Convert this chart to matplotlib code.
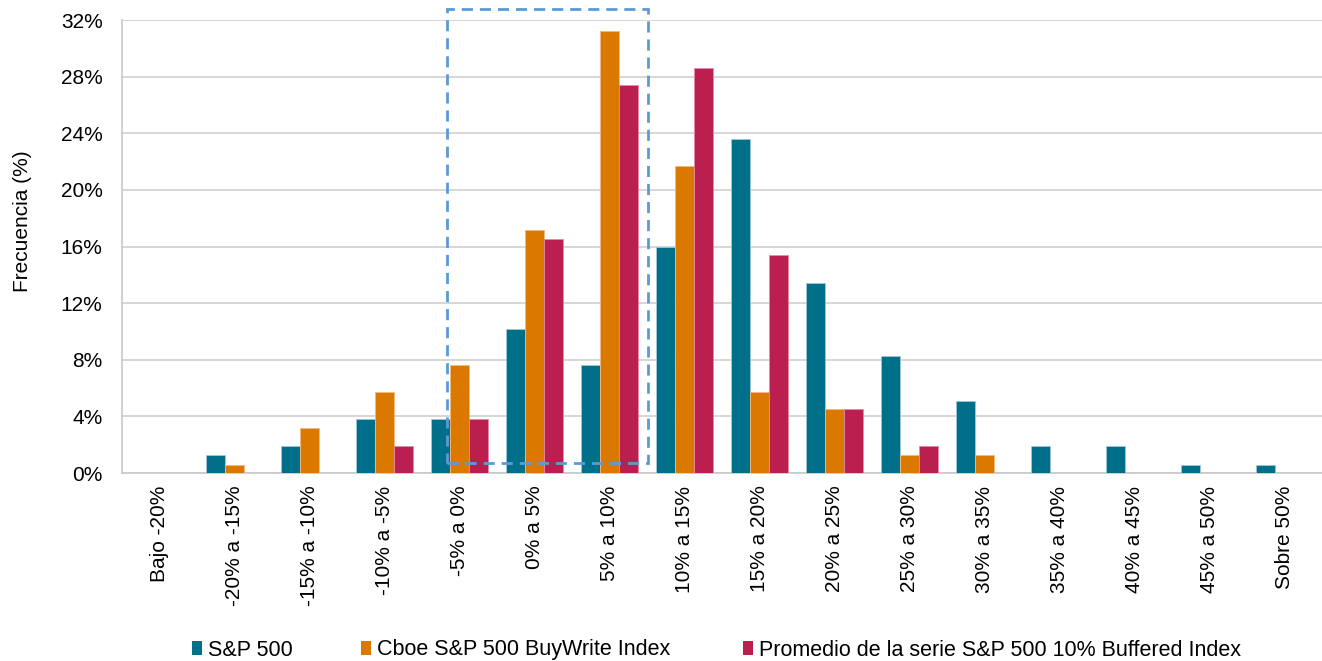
import numpy as np
import matplotlib.pyplot as plt
from matplotlib.patches import Rectangle, Patch

plt.rcParams['font.family'] = ['Liberation Sans', 'DejaVu Sans']

categorias = ["Bajo -20%", "-20% a -15%", "-15% a -10%", "-10% a -5%", "-5% a 0%",
              "0% a 5%", "5% a 10%", "10% a 15%", "15% a 20%", "20% a 25%",
              "25% a 30%", "30% a 35%", "35% a 40%", "40% a 45%", "45% a 50%",
              "Sobre 50%"]
sp500 = [0, 1.3, 1.9, 3.8, 3.8, 10.2, 7.6, 16.0, 23.6, 13.4, 8.3, 5.1, 1.9, 1.9, 0.6, 0.6]
buywrite = [0, 0.6, 3.2, 5.7, 7.6, 17.2, 31.2, 21.7, 5.7, 4.5, 1.3, 1.3, 0, 0, 0, 0]
buffered = [0, 0, 0, 1.9, 3.8, 16.5, 27.4, 28.6, 15.4, 4.5, 1.9, 0, 0, 0, 0, 0]
series = ["S&P 500", "Cboe S&P 500 BuyWrite Index",
          "Promedio de la serie S&P 500 10% Buffered Index"]
colores = ["#006F8A", "#DB7800", "#BA1F50"]
bordes = ["#9CC9D6", "#F2B97A", "#E48AA6"]

fig = plt.figure(figsize=(13.22, 6.61), dpi=100)
ax = fig.add_axes([0.0923, 0.2844, 0.9077, 0.6853])

x = np.arange(len(categorias))
w = 0.253
for i, vals in enumerate([sp500, buywrite, buffered]):
    ax.bar(x + (i - 1) * w, vals, w, color=colores[i], edgecolor=bordes[i],
           linewidth=0.6, zorder=3)

ax.set_xlim(-0.5, len(categorias) - 0.5)
ax.set_ylim(0, 32)
ax.set_yticks(np.arange(0, 33, 4))
ax.set_yticklabels([f"{v}%" for v in range(0, 33, 4)], fontsize=15)
ax.set_xticks(x)
ax.set_xticklabels(categorias, rotation=90, fontsize=15, va='top')
ax.tick_params(axis='both', length=0)
ax.tick_params(axis='y', pad=14)
ax.tick_params(axis='x', pad=9)
ax.grid(axis='y', color='#D0D0D0', linewidth=1.2, zorder=0)
for s in ['top', 'right']:
    ax.spines[s].set_visible(False)
for s in ['left', 'bottom']:
    ax.spines[s].set_color('#C8C8C8')
    ax.spines[s].set_linewidth(1.2)
ax.set_ylabel("Frecuencia (%)", fontsize=15)
ax.yaxis.set_label_coords(-0.075, 0.556)

# recuadro discontinuo
ax.add_patch(Rectangle((3.83, 0.7), 2.68, 32.1, fill=False, edgecolor='#5B9BD5',
                       linestyle=(0, (4, 2.5)), linewidth=2, clip_on=False, zorder=4))

# leyenda: una entrada por serie
pos_leyenda = [192, 361, 743]
for c, nombre, px in zip(colores, series, pos_leyenda):
    fig.legend([Patch(facecolor=c)], [nombre], loc='center left',
               bbox_to_anchor=(px / 1322, 1 - 650 / 661), frameon=False, fontsize=15.5,
               handlelength=0.45, handleheight=0.6, handletextpad=0.3,
               borderpad=0, borderaxespad=0)

fig.savefig('out.png', dpi=100)
